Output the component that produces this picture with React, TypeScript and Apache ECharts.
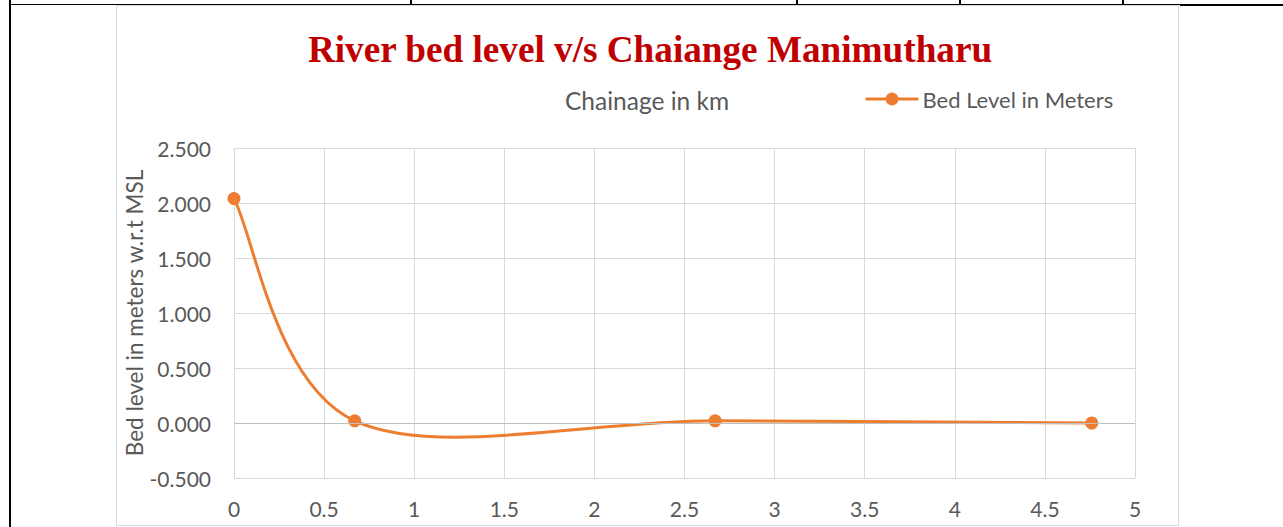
import { useEffect, useRef } from "react";
import * as echarts from "echarts";

// Data
const chainage: number[] = [0, 0.67, 2.67, 4.76];
const bedLevel: number[] = [2.04, 0.02, 0.02, 0.0];
const seriesName = "Bed Level in Meters";
const chartTitle = "River bed level v/s Chaiange Manimutharu";
const xAxisTitle = "Chainage in km";
const yAxisTitle = "Bed level in meters w.r.t MSL";

const ORANGE = "#ed7d31";
const GREY_TEXT = "#595959";
const GRID = "#d9d9d9";
const FONT = "Lato, 'Open Sans', sans-serif";

export default function App() {
  const ref = useRef<HTMLDivElement>(null);

  useEffect(() => {
    if (!ref.current) return;
    const chart = echarts.init(ref.current, undefined, { renderer: "svg" });
    const n = chainage.length;
    const points = chainage.map((x, i) => [x, bedLevel[i]]);

    chart.setOption({
      animation: false,
      backgroundColor: "#ffffff",
      title: [
        {
          text: chartTitle,
          left: 645,
          textAlign: "center",
          top: 26,
          textStyle: {
            fontFamily: "'Liberation Serif', 'Times New Roman', serif",
            fontWeight: "bold",
            fontSize: 37.2,
            color: "#c00000",
          },
        },
        {
          text: xAxisTitle,
          left: 642,
          textAlign: "center",
          top: 83,
          textStyle: { fontFamily: FONT, fontWeight: "normal", fontSize: 24.5, color: GREY_TEXT },
        },
      ],
      legend: {
        left: 859,
        top: 83,
        itemWidth: 53,
        itemHeight: 16,
        itemGap: 5,
        textStyle: { fontFamily: FONT, fontSize: 22, color: GREY_TEXT, padding: [0, 0, 0, -1] },
        data: [
          {
            name: seriesName,
            lineStyle: { color: ORANGE, width: 3, opacity: 1 },
            itemStyle: { color: ORANGE },
          },
        ],
      },
      grid: { left: 234, top: 148, width: 901, height: 330, containLabel: false },
      xAxis: {
        type: "value",
        min: 0,
        max: 5,
        interval: 0.5,
        axisLine: { show: false },
        axisTick: { show: false },
        splitLine: { show: true, lineStyle: { color: GRID, width: 1 } },
        axisLabel: { fontFamily: FONT, fontSize: 21, color: GREY_TEXT, margin: 20 },
      },
      yAxis: {
        type: "value",
        min: -0.5,
        max: 2.5,
        interval: 0.5,
        name: yAxisTitle,
        nameLocation: "middle",
        nameGap: 88,
        nameMoveOverlap: false,
        nameTextStyle: { fontFamily: FONT, fontSize: 22.5, color: GREY_TEXT },
        axisLine: { show: false },
        axisTick: { show: false },
        splitLine: { show: true, lineStyle: { color: GRID, width: 1 } },
        axisLabel: {
          fontFamily: FONT,
          fontSize: 21,
          color: GREY_TEXT,
          margin: 23,
          formatter: (v: number) => v.toFixed(3),
        },
      },
      graphic: [
        // surrounding table lines
        { type: "line", shape: { x1: 10, y1: 4.5, x2: 1180, y2: 4.5 }, style: { stroke: "#000", lineWidth: 1 }, silent: true },
        { type: "line", shape: { x1: 1180, y1: 5, x2: 1283, y2: 5 }, style: { stroke: "#000", lineWidth: 2 }, silent: true },
        { type: "line", shape: { x1: 10, y1: 0, x2: 10, y2: 527 }, style: { stroke: "#000", lineWidth: 2 }, silent: true },
        { type: "line", shape: { x1: 411, y1: 0, x2: 411, y2: 4 }, style: { stroke: "#000", lineWidth: 2 }, silent: true },
        { type: "line", shape: { x1: 797, y1: 0, x2: 797, y2: 4 }, style: { stroke: "#000", lineWidth: 2 }, silent: true },
        { type: "line", shape: { x1: 960, y1: 0, x2: 960, y2: 4 }, style: { stroke: "#000", lineWidth: 2 }, silent: true },
        { type: "line", shape: { x1: 1123, y1: 0, x2: 1123, y2: 4 }, style: { stroke: "#000", lineWidth: 2 }, silent: true },
        // chart frame
        {
          type: "rect",
          shape: { x: 116.5, y: 5.5, width: 1062, height: 520 },
          style: { stroke: GRID, fill: "none", lineWidth: 1 },
          silent: true,
          z: -1,
        },
      ],
      series: [
        {
          type: "custom",
          name: "curve",
          z: 2,
          data: points,
          encode: { x: 0, y: 1 },
          renderItem: (params: any, api: any) => {
            const i = params.dataIndex;
            if (i >= n - 1) return null;
            const P = (k: number) => {
              const c = Math.max(0, Math.min(n - 1, k));
              return api.coord([chainage[c], bedLevel[c]]);
            };
            const p0 = P(i - 1);
            const p1 = P(i);
            const p2 = P(i + 1);
            const p3 = P(i + 2);
            return {
              type: "bezierCurve",
              shape: {
                x1: p1[0],
                y1: p1[1],
                x2: p2[0],
                y2: p2[1],
                cpx1: p1[0] + (p2[0] - p0[0]) / 6,
                cpy1: p1[1] + (p2[1] - p0[1]) / 6,
                cpx2: p2[0] - (p3[0] - p1[0]) / 6,
                cpy2: p2[1] - (p3[1] - p1[1]) / 6,
              },
              style: { stroke: ORANGE, lineWidth: 3, fill: "none" },
            };
          },
          markLine: {
            silent: true,
            symbol: "none",
            label: { show: false },
            lineStyle: { color: "#bfbfbf", type: "solid", width: 1 },
            data: [{ yAxis: 0 }],
          },
        },
        {
          type: "line",
          name: seriesName,
          z: 3,
          data: points,
          symbol: "circle",
          symbolSize: 13,
          showSymbol: true,
          itemStyle: { color: ORANGE },
          lineStyle: { width: 0, opacity: 0 },
        },
      ],
    });

    return () => chart.dispose();
  }, []);

  return (
    <div
      ref={ref}
      style={{ position: "fixed", left: 0, top: 0, width: 1283, height: 527, background: "#fff" }}
    />
  );
}
